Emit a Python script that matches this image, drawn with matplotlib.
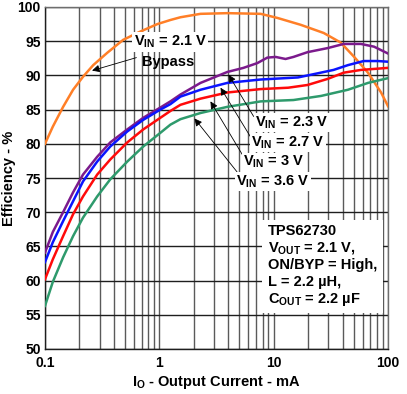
import matplotlib
matplotlib.use("Agg")
import matplotlib.pyplot as plt
from matplotlib.ticker import FixedLocator, NullFormatter

plt.rcParams['font.family'] = ['Liberation Sans', 'DejaVu Sans']
plt.rcParams['font.weight'] = 'bold'
plt.rcParams['mathtext.fontset'] = 'custom'
plt.rcParams['mathtext.rm'] = 'Liberation Sans:bold'
plt.rcParams['mathtext.it'] = 'Liberation Sans:bold'
plt.rcParams['mathtext.bf'] = 'Liberation Sans:bold'

# output current (mA) / efficiency (%)
i_byp = [0.1, 0.117, 0.144, 0.176, 0.215, 0.264, 0.35, 0.483, 0.68, 0.96, 1.25, 1.53, 2.29,
         3.93, 7.7, 10.8, 17.2, 27.4, 38.6, 50.6, 66.8, 87, 100]
eff_byp = [80.0, 82.5, 85.4, 87.9, 89.8, 91.5, 93.3, 95.2, 96.4, 97.5, 98.1, 98.5, 99.0,
           99.1, 99.0, 98.4, 97.4, 96.2, 94.8, 92.7, 90.4, 87.5, 85.5]

i_lo = [0.1, 0.117, 0.144, 0.176, 0.215, 0.286, 0.372, 0.524, 0.723, 1.02, 1.25, 1.53, 2.29, 3.93]

i_23 = i_lo + [5.44, 7.2, 8.8, 10.4, 12.7, 14.9, 19.8, 29.8, 41.0, 58.0, 75.5, 100]
eff_23 = [64.1, 67.1, 70.0, 72.9, 75.5, 78.1, 80.2, 82.1, 83.8, 85.3, 86.2, 87.2, 88.9, 90.5,
          91.1, 91.8, 92.6, 92.7, 92.4, 92.7, 93.4, 94.0, 94.6, 94.6, 94.2, 93.2]

i_27 = i_lo + [7.7, 16.3, 24.2, 33.4, 44.6, 61.2, 81.6, 100]
eff_27 = [62.7, 65.6, 68.7, 71.6, 74.5, 77.4, 79.6, 81.8, 83.5, 85.0, 85.8, 86.9, 87.9, 88.9,
          89.4, 89.7, 90.3, 90.8, 91.5, 92.1, 92.1, 92.0]

i_3 = i_lo + [7.7, 13.4, 19.8, 29.8, 41.0, 58.0, 100]
eff_3 = [60.2, 63.1, 66.5, 69.7, 72.3, 75.5, 77.7, 80.2, 82.1, 83.8, 84.8, 85.7, 86.6, 87.5,
         88.0, 88.2, 88.6, 89.5, 90.4, 90.8, 91.1]

i_36 = i_lo + [7.7, 14.9, 26.0, 44.6, 66.8, 100]
eff_36 = [56.3, 59.8, 63.4, 66.5, 69.2, 72.3, 74.8, 77.4, 79.6, 81.6, 82.8, 83.6, 84.5, 85.4,
          86.2, 86.4, 87.0, 87.9, 88.9, 89.6]

fig = plt.figure(figsize=(4.07, 3.94), dpi=100)
ax = fig.add_axes([45 / 407, 1 - 349 / 394, 343 / 407, 342 / 394])

ax.plot(i_byp, eff_byp, color='#ff7f27', lw=1.8, zorder=3)
ax.plot(i_23, eff_23, color='#7b1a8c', lw=1.8, zorder=3)
ax.plot(i_27, eff_27, color='#0a14ff', lw=1.8, zorder=3)
ax.plot(i_3, eff_3, color='#ff0a0a', lw=1.8, zorder=3)
ax.plot(i_36, eff_36, color='#2e9a6c', lw=1.8, zorder=3)

ax.set_xscale('log')
ax.set_xlim(0.1, 100)
ax.set_ylim(50, 100)
ax.xaxis.set_major_locator(FixedLocator([0.1, 1, 10, 100]))
ax.xaxis.set_minor_locator(FixedLocator([k * d for d in (0.1, 1, 10) for k in range(2, 10)]))
ax.xaxis.set_minor_formatter(NullFormatter())
ax.set_xticklabels(['0.1', '1', '10', '100'])
ax.set_yticks(range(50, 101, 5))
ax.tick_params(which='both', length=0, labelsize=10)
ax.tick_params(axis='y', pad=3)
ax.tick_params(axis='x', pad=5)
ax.grid(True, axis='x', which='both', color='#5a5a5a', lw=1.0)
ax.grid(True, axis='y', which='major', color='#1e1e1e', lw=1.0)
for s in ax.spines.values():
    s.set_color('#6e6e6e')
    s.set_linewidth(1.0)
ax.spines['left'].set_color('#1e1e1e')
ax.spines['bottom'].set_color('#1e1e1e')

ax.set_xlabel('I$_\\mathregular{O}$ - Output Current - mA', fontsize=10.5, fontweight='bold', labelpad=3)
ax.set_ylabel('Efficiency - %', fontsize=10.5, fontweight='bold')
ax.yaxis.set_label_coords(-0.085, 0.5)

box = dict(facecolor='white', edgecolor='none', pad=1)
arrow = dict(arrowstyle='-|>', color='black', lw=0.6, mutation_scale=11, shrinkA=0, shrinkB=0)

ax.text(1.25, 94.9, 'V$_\\mathregular{IN}$ = 2.1 V', fontsize=10.5, ha='center', va='center', bbox=box, zorder=4)
ax.text(1.2, 92.0, 'Bypass', fontsize=10.5, ha='center', va='center', zorder=4)
ax.annotate('', xy=(0.258, 90.7), xytext=(0.63, 92.6), arrowprops=arrow, zorder=4)

labels = [('V$_\\mathregular{IN}$ = 2.3 V', 14.4, 83.1, (6.68, 84.0), (4.03, 90.1)),
          ('V$_\\mathregular{IN}$ = 2.7 V', 13.3, 80.2, (6.28, 81.0), (3.43, 88.2)),
          ('V$_\\mathregular{IN}$ = 3 V', 10.0, 77.3, (5.46, 78.1), (2.80, 86.2)),
          ('V$_\\mathregular{IN}$ = 3.6 V', 9.8, 74.5, (4.83, 75.8), (2.03, 83.7))]
for txt, x, y, tail, tip in labels:
    ax.annotate('', xy=tip, xytext=tail, arrowprops=arrow, zorder=4)
    ax.text(x, y, txt, fontsize=10.5, ha='center', va='center', bbox=box, zorder=5)

ax.text(8.9, 68.3, 'TPS62730\nV$_\\mathregular{OUT}$ = 2.1 V,\nON/BYP = High,\nL = 2.2 µH,\nC$_\\mathregular{OUT}$ = 2.2 µF',
        fontsize=10.5, ha='left', va='top', linespacing=1.2,
        bbox=dict(facecolor='white', edgecolor='none', pad=4), zorder=5)

fig.savefig('out.png', dpi=100)
